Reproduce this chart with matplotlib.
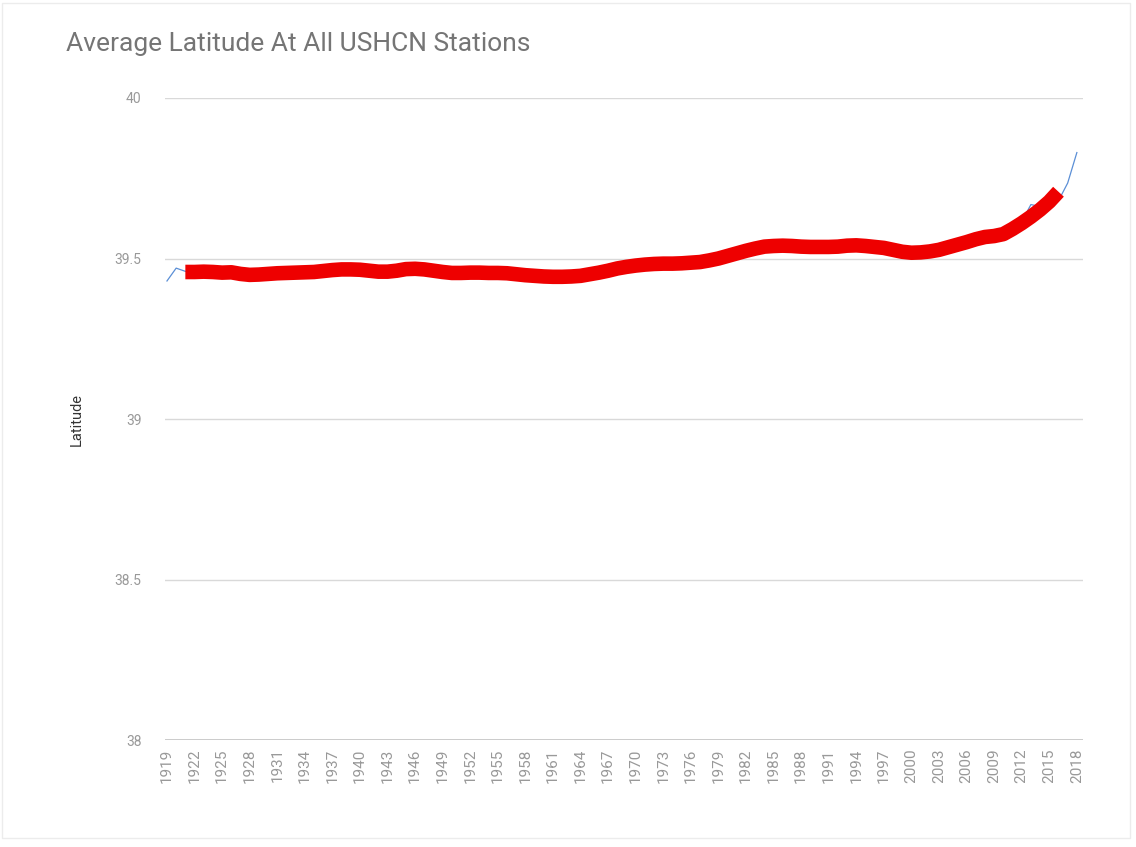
import numpy as np
import matplotlib.pyplot as plt
from matplotlib.patches import Rectangle

plt.rcParams['font.family'] = ['Roboto', 'DejaVu Sans']

# yearly average latitude (thin blue line)
years = list(range(1919, 2019))
latitude = [
    39.430, 39.470, 39.460, 39.459, 39.461, 39.457, 39.455, 39.458, 39.451, 39.447,
    39.451, 39.452, 39.455, 39.454, 39.457, 39.456, 39.459, 39.462, 39.465, 39.467,
    39.465, 39.466, 39.461, 39.458, 39.460, 39.463, 39.468, 39.470, 39.465, 39.461,
    39.457, 39.454, 39.456, 39.457, 39.455, 39.456, 39.454, 39.453, 39.450, 39.447,
    39.446, 39.443, 39.444, 39.442, 39.445, 39.447, 39.452, 39.457, 39.463, 39.470,
    39.474, 39.479, 39.481, 39.484, 39.483, 39.485, 39.486, 39.488, 39.490, 39.495,
    39.501, 39.509, 39.517, 39.525, 39.532, 39.536, 39.540, 39.541, 39.538, 39.537,
    39.535, 39.537, 39.535, 39.538, 39.541, 39.542, 39.538, 39.535, 39.532, 39.526,
    39.520, 39.517, 39.520, 39.523, 39.528, 39.536, 39.544, 39.552, 39.561, 39.568,
    39.572, 39.570, 39.578, 39.615, 39.668, 39.662, 39.684, 39.680, 39.735, 39.830,
]

# smoothed series (thick red line)
smooth_years = list(range(1921, 2017))
smooth_lat = [
    39.458,
    39.458, 39.459, 39.458, 39.456, 39.457, 39.452, 39.449, 39.450, 39.452, 39.454,
    39.455, 39.456, 39.457, 39.458, 39.461, 39.464, 39.466, 39.466, 39.465, 39.462,
    39.459, 39.459, 39.462, 39.467, 39.468, 39.466, 39.462, 39.458, 39.455, 39.455,
    39.456, 39.456, 39.455, 39.455, 39.454, 39.451, 39.448, 39.446, 39.444, 39.443,
    39.443, 39.444, 39.446, 39.451, 39.456, 39.462, 39.469, 39.474, 39.478, 39.481,
    39.483, 39.484, 39.484, 39.485, 39.487, 39.489, 39.494, 39.500, 39.508, 39.516,
    39.524, 39.531, 39.537, 39.539, 39.540, 39.539, 39.537, 39.536, 39.536, 39.536,
    39.537, 39.540, 39.541, 39.539, 39.536, 39.533, 39.527, 39.521, 39.518, 39.519,
    39.522, 39.527, 39.535, 39.543, 39.551, 39.560, 39.567, 39.570, 39.576, 39.592,
    39.610, 39.630, 39.652, 39.677, 39.708,
]

y_ticks = [38, 38.5, 39, 39.5, 40]
y_tick_labels = ['38', '38.5', '39', '39.5', '40']
x_ticks = list(range(1919, 2019, 3))

fig = plt.figure(figsize=(11.36, 8.47), dpi=100)
ax = fig.add_axes([0.1452, 0.1263, 0.8080, 0.7580])

ax.plot(years, latitude, color='#5b8fd6', lw=0.9, zorder=2)
ax.plot(smooth_years, smooth_lat, color='#ee0000', lw=10.5, solid_capstyle='butt',
        solid_joinstyle='round', zorder=3)

ax.set_xlim(1918.78, 2018.65)
ax.set_ylim(38, 40)
ax.set_yticks(y_ticks)
ax.set_yticklabels(y_tick_labels)
ax.set_xticks(x_ticks)
ax.set_xticklabels([str(y) for y in x_ticks], rotation=90)
ax.tick_params(axis='both', length=0, colors='#999999')
ax.tick_params(axis='y', pad=17, labelsize=10)
ax.tick_params(axis='x', pad=6, labelsize=11)
ax.grid(axis='y', color='#d9d9d9', lw=1)
ax.set_axisbelow(True)
for s in ax.spines.values():
    s.set_visible(False)
ax.axhline(38, color='#c4c4c4', lw=1.2, zorder=1)

ax.set_ylabel('Latitude', color='#333333', fontsize=10.5, labelpad=22)

fig.text(0.058, 0.948, 'Average Latitude At All USHCN Stations', fontsize=19,
         color='#757575', va='center', ha='left')

fig.patches.append(Rectangle((0.002, 0.011), 0.993, 0.985, transform=fig.transFigure,
                             fill=False, edgecolor='#ececec', lw=1))

fig.savefig('out.png', dpi=100)
